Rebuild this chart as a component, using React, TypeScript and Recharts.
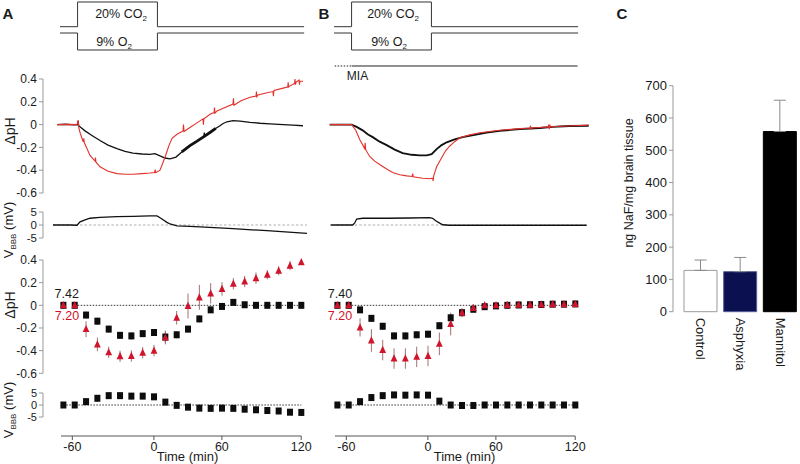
import React from 'react';
import { ComposedChart, Line, XAxis, YAxis, ErrorBar, BarChart, Bar, Cell } from 'recharts';

const FONT = '"Liberation Sans", Arial, Helvetica, sans-serif';
const RED_TRACE = '#e2322c';
const RED_MARK = '#d0142c';
const AXIS_GRAY = '#9a9a9a';

// x is the sample index (22 samples); tick labels are the protocol times
const sampleIdx = [0, 1, 2, 3, 4, 5, 6, 7, 8, 9, 10, 11, 12, 13, 14, 15, 16, 17, 18, 19, 20, 21];
const timeTicks = [0.8, 8, 14, 21];
const timeTickLabels = ['-60', '0', '60', '120'];

// gas protocol / MIA bar, in the same x units
const gasStart = -0.3;
const gasOn = 1.25;
const gasOff = 8.3;
const gasEnd = 21.25;
const miaStart = -0.24;
const miaOn = 1.27;
const miaEnd = 21.2;

// ---- continuous recordings [x, value] ----
const phTraceA_black = [
  [-0.56, 0], [0.2, 0.003], [0.9, -0.002], [1.25, 0], [1.3, 0.03], [1.35, -0.01], [1.6, -0.03], [1.91, -0.055],
  [2.52, -0.095], [3.23, -0.14], [3.94, -0.18], [4.73, -0.21], [5.44, -0.235], [6.14, -0.25], [6.94, -0.258],
  [7.64, -0.262], [8.08, -0.255], [8.53, -0.275], [8.97, -0.293], [9.41, -0.3], [9.94, -0.285], [10.4, -0.245],
  [11.17, -0.185], [11.8, -0.145], [12.4, -0.105], [12.44, -0.07], [12.48, -0.105], [13.0, -0.065], [13.5, -0.03],
  [13.82, -0.01], [14.1, 0.01], [14.44, 0.025], [14.97, 0.035], [15.59, 0.03], [16.47, 0.02], [17.35, 0.012],
  [18.24, 0.006], [19.4, 0], [20.26, -0.005], [21.15, -0.01],
];
// noisy stretch of the control recording (drawn as a wider band)
const phTraceA_blackNoisy = [
  [10.45, -0.24], [11.17, -0.185], [11.8, -0.145], [12.4, -0.105], [13.0, -0.065], [13.45, -0.033],
];
const phTraceA_red = [
  [-0.56, 0], [0.5, 0.002], [1.2, 0], [1.3, 0.04], [1.36, -0.03], [1.5, -0.08], [1.75, -0.15], [1.8, -0.12],
  [1.85, -0.16], [2.08, -0.21], [2.35, -0.27], [2.79, -0.32], [2.83, -0.29], [2.88, -0.33], [3.23, -0.37],
  [3.94, -0.41], [4.73, -0.43], [5.44, -0.435], [6.14, -0.435], [6.94, -0.43], [7.64, -0.425], [8.05, -0.42],
  [8.1, -0.395], [8.15, -0.422], [8.53, -0.4], [8.8, -0.33], [9.06, -0.26], [9.33, -0.18], [9.59, -0.12],
  [10.03, -0.085], [10.56, -0.055], [10.6, 0.0], [10.65, -0.06], [11.17, -0.025], [11.79, 0.015], [12.32, 0.05],
  [12.36, 0.0], [12.4, 0.05], [12.94, 0.09], [13.3, 0.105], [13.34, 0.15], [13.38, 0.1], [13.56, 0.12],
  [14.26, 0.15], [14.97, 0.18], [15.01, 0.23], [15.05, 0.17], [15.68, 0.21], [16.47, 0.24], [17.0, 0.25],
  [17.04, 0.29], [17.08, 0.245], [17.18, 0.26], [17.97, 0.28], [18.5, 0.29], [18.54, 0.25], [18.58, 0.3],
  [19.4, 0.32], [19.8, 0.33], [19.84, 0.37], [19.88, 0.33], [20.0, 0.34], [20.4, 0.36], [20.44, 0.4],
  [20.48, 0.35], [20.53, 0.37], [20.8, 0.39], [20.84, 0.35], [20.88, 0.38], [21.15, 0.38],
];
const vTraceA = [
  [-0.92, 0], [0, 0.05], [0.58, 0], [1.2, -0.1], [1.47, 1.2], [1.91, 2.0], [2.35, 2.6], [3.23, 2.9], [4.73, 3.2],
  [6.14, 3.35], [7.64, 3.5], [8.26, 3.5], [8.53, 2.8], [8.8, 2.0], [9.14, 1.0], [9.41, 0.4], [10.03, -0.3],
  [11.17, -0.55], [12.06, -0.7], [14.97, -1.4], [17.97, -2.2], [21.5, -3.2],
];
const phTraceB_black = [
  [-0.68, 0], [0.64, 0], [1.26, 0], [1.7, -0.02], [2.23, -0.05], [2.67, -0.085], [3.12, -0.11], [3.73, -0.15],
  [4.35, -0.18], [5.06, -0.22], [5.76, -0.25], [6.56, -0.265], [7.26, -0.27], [7.88, -0.27], [8.32, -0.26],
  [8.76, -0.215], [9.2, -0.18], [9.65, -0.155], [10.35, -0.13], [11.06, -0.11], [12.12, -0.09], [13.18, -0.07],
  [14.33, -0.055], [16.1, -0.04], [17.86, -0.03], [19.0, -0.02], [20.5, -0.012], [22.18, -0.01],
];
const phTraceB_red = [
  [-0.68, 0], [1.26, 0], [1.62, -0.05], [1.97, -0.13], [2.41, -0.21], [2.45, -0.16], [2.5, -0.22], [2.85, -0.28],
  [3.29, -0.32], [3.73, -0.35], [4.35, -0.39], [4.88, -0.42], [5.5, -0.44], [6.12, -0.45], [6.6, -0.455],
  [6.65, -0.43], [6.7, -0.458], [7.53, -0.47], [8.15, -0.475], [8.41, -0.47], [8.45, -0.495], [8.5, -0.45],
  [8.76, -0.37], [9.2, -0.29], [9.55, -0.23], [9.9, -0.19], [10.35, -0.15], [10.79, -0.115], [11.68, -0.09],
  [12.56, -0.072], [14.33, -0.05], [16.1, -0.035], [17.0, -0.03], [17.05, -0.01], [17.1, -0.045], [17.15, -0.03],
  [17.86, -0.025], [18.6, -0.02], [18.65, 0], [18.7, -0.04], [18.75, 0], [18.8, -0.02], [19.63, -0.015],
  [20.95, -0.01], [22.18, -0.005],
];
const vTraceB = [
  [-0.6, 0], [1.35, 0], [1.53, 0.8], [1.7, 2.3], [2.23, 2.6], [4.35, 2.6], [6.38, 2.7], [8.15, 2.8], [8.41, 2.6],
  [8.68, 1.6], [9.03, 0.7], [9.3, 0.1], [9.9, -0.1], [22.0, -0.1],
];
const vTraceZeroA = [-0.92, 21.5];
const vTraceZeroB = [-0.06, 22.0];

// ---- averaged samples ----
const phA_black = [0, 0, -0.086, -0.14, -0.21, -0.265, -0.27, -0.25, -0.24, -0.28, -0.26, -0.21, -0.12, -0.04, -0.01, 0.026, 0.005, 0, 0, 0, 0, 0];
const phA_blackErr = [0, 0, 0.03, 0.03, 0.03, 0.03, 0.03, 0.03, 0.03, 0.05, 0.03, 0.03, 0.03, 0.02, 0.02, 0.02, 0.01, 0.01, 0.01, 0.01, 0.01, 0.01];
const phA_red = [0, 0, -0.21, -0.345, -0.415, -0.45, -0.447, -0.418, -0.4, -0.285, -0.11, -0.006, 0.07, 0.105, 0.145, 0.19, 0.21, 0.24, 0.27, 0.305, 0.35, 0.38];
const phA_redErr = [0, 0, 0.07, 0.06, 0.05, 0.05, 0.05, 0.05, 0.05, 0.06, 0.06, 0.11, 0.11, 0.09, 0.06, 0.05, 0.05, 0.05, 0.04, 0.04, 0.04, 0.02];
const vA_black = [0, 0, 1.4, 2.8, 3.9, 3.9, 3.7, 3.7, 3.4, 1.2, -0.15, -0.9, -1.3, -1.4, -1.3, -1.4, -1.75, -2.0, -2.3, -2.5, -3.0, -3.1];
const vA_err = [0.5, 0.5, 1.3, 1.3, 1.0, 1.0, 1.0, 1.0, 1.0, 1.0, 0.9, 1.0, 1.0, 1.0, 1.0, 1.0, 1.0, 1.0, 1.0, 1.0, 1.0, 1.1];

const phB_black = [0, 0, -0.04, -0.115, -0.185, -0.27, -0.27, -0.26, -0.255, -0.18, -0.11, -0.065, -0.035, -0.012, -0.005, 0, 0.003, 0.005, 0.007, 0.01, 0.01, 0.012];
const phB_blackErr = [0, 0, 0.02, 0.03, 0.03, 0.03, 0.03, 0.03, 0.03, 0.03, 0.03, 0.02, 0.02, 0.01, 0.01, 0.01, 0.01, 0.01, 0.01, 0.01, 0.01, 0.01];
const phB_red = [0, 0, -0.195, -0.31, -0.395, -0.47, -0.47, -0.455, -0.447, -0.34, -0.165, -0.065, -0.024, 0, 0, 0.003, 0.005, 0.005, 0.007, 0.01, 0.01, 0.012];
const phB_redErr = [0, 0, 0.08, 0.1, 0.09, 0.09, 0.09, 0.09, 0.09, 0.1, 0.1, 0.04, 0.03, 0.02, 0.02, 0.02, 0.02, 0.02, 0.02, 0.02, 0.02, 0.02];
const vB_black = [0, 0, 1.4, 3.1, 3.9, 4.2, 4.1, 4.2, 4.1, 1.6, 0, -0.2, -0.2, 0, 0, 0, 0, 0, 0, 0, 0, 0];
const vB_err = [0.3, 0.3, 0.8, 1.0, 0.9, 0.7, 0.7, 0.7, 0.8, 0.9, 0.5, 0.6, 0.5, 0.3, 0.3, 0.3, 0.3, 0.3, 0.3, 0.3, 0.3, 0.3];

const phTicks = [-0.6, -0.4, -0.2, 0, 0.2, 0.4];
const vTicks = [-5, 0, 5];

// ---- panel C ----
const groups = ['Control', 'Asphyxia', 'Mannitol'];
const nafMean = [128, 124, 558];
const nafSem = [32, 44, 97];
const nafTicks = [0, 100, 200, 300, 400, 500, 600, 700];
const barFill = ['#ffffff', '#0b1050', '#000000'];
const barStroke = ['#9a9a9a', '#56609a', '#000000'];

// layout of the time columns
const PX = 11.33;
const X_MIN = -1.8;
const X_MAX = 22.4;
const PLOT_W = (X_MAX - X_MIN) * PX;
const AXIS_W = 43;
const COL_A = 43;
const COL_B = 317.3;

const pairs = (arr: number[][]) => arr.map(([x, y]) => ({ x, y }));
const samples = (vals: number[], errs: number[]) => sampleIdx.map((x, i) => ({ x, y: vals[i], e: errs[i] }));
const zeroLine = (s: number[]) => [[s[0], 0], [s[1], 0]];

const co2Steps = [[gasStart, 0], [gasOn, 0], [gasOn, 1], [gasOff, 1], [gasOff, 0], [gasEnd, 0]];
const o2Steps = [[gasStart, 0], [gasOn, 0], [gasOn, -1], [gasOff, -1], [gasOff, 0], [gasEnd, 0]];

const square = (p: any) => (
  <rect key={`s${p.index}`} x={p.cx - 3} y={p.cy - 3.5} width={6} height={7} fill="#0d0d0d" />
);
const triangle = (p: any) => (
  <polygon
    key={`t${p.index}`}
    points={`${p.cx},${p.cy - 4.2} ${p.cx - 3.4},${p.cy + 3} ${p.cx + 3.4},${p.cy + 3}`}
    fill={RED_MARK}
  />
);

interface StripProps {
  left: number;
  plotTop: number;
  plotH: number;
  domain: [number, number];
  ticks?: number[];
  axis?: boolean;
  tickFont?: number;
  children: React.ReactNode;
}

const Strip: React.FC<StripProps> = ({ left, plotTop, plotH, domain, ticks, axis = false, tickFont = 12, children }) => {
  const m = 8;
  return (
    <div style={{ position: 'absolute', left: axis ? left - AXIS_W : left, top: plotTop - m }}>
      <ComposedChart
        width={(axis ? AXIS_W : 0) + PLOT_W}
        height={plotH + 2 * m}
        margin={{ top: m, right: 0, bottom: m, left: 0 }}
      >
        <XAxis type="number" dataKey="x" domain={[X_MIN, X_MAX]} hide />
        <YAxis
          type="number"
          domain={domain}
          ticks={ticks}
          hide={!axis}
          width={AXIS_W}
          interval={0}
          axisLine={{ stroke: AXIS_GRAY }}
          tickLine={{ stroke: AXIS_GRAY }}
          tickSize={4}
          tickMargin={2}
          tick={{ fontSize: tickFont, fill: '#1a1a1a' }}
        />
        {children}
      </ComposedChart>
    </div>
  );
};

const trace = (data: number[][], color: string, w = 1.1, dash?: string) => (
  <Line
    data={pairs(data)}
    dataKey="y"
    type="linear"
    stroke={color}
    strokeWidth={w}
    strokeDasharray={dash}
    dot={false}
    activeDot={false}
    isAnimationActive={false}
  />
);

const markers = (vals: number[], errs: number[], red: boolean) => (
  <Line
    data={samples(vals, errs)}
    dataKey="y"
    stroke="none"
    dot={red ? triangle : square}
    activeDot={false}
    isAnimationActive={false}
  >
    <ErrorBar dataKey="e" width={0} stroke={red ? '#a07070' : '#555'} strokeWidth={1} direction="y" />
  </Line>
);

const TimeAxis: React.FC<{ left: number }> = ({ left }) => {
  const tMin = -0.2;
  const tMax = 21;
  const pad = 20;
  return (
    <div style={{ position: 'absolute', left: left + (tMin - X_MIN) * PX - pad, top: 435 }}>
      <ComposedChart
        width={(tMax - tMin) * PX + 2 * pad}
        height={30}
        margin={{ top: 0, right: pad, bottom: 0, left: pad }}
      >
        <XAxis
          type="number"
          dataKey="x"
          domain={[tMin, tMax]}
          allowDataOverflow
          ticks={timeTicks}
          interval={0}
          tickFormatter={(v: number) => timeTickLabels[timeTicks.indexOf(v)]}
          height={29}
          tickSize={4}
          tickMargin={2}
          axisLine={{ stroke: '#555' }}
          tickLine={{ stroke: '#555' }}
          tick={{ fontSize: 12.5, fill: '#1a1a1a' }}
        />
        <YAxis hide domain={[0, 1]} />
      </ComposedChart>
    </div>
  );
};

const Protocol: React.FC<{ left: number; mia?: boolean }> = ({ left, mia = false }) => (
  <>
    <Strip left={left} plotTop={2.3} plotH={24.7} domain={[0, 1]}>
      {trace(co2Steps, '#333', 1)}
    </Strip>
    <Strip left={left} plotTop={33} plotH={17} domain={[-1, 0]}>
      {trace(o2Steps, '#333', 1)}
    </Strip>
    {mia && (
      <Strip left={left} plotTop={60} plotH={6} domain={[0, 1]}>
        {trace([[miaStart, 0], [miaOn, 0]], '#222', 1, '1.5 1.5')}
        {trace([[miaOn, 0], [miaEnd, 0]], '#222', 1)}
      </Strip>
    )}
  </>
);

interface TxtProps {
  x: number;
  y: number;
  size?: number;
  color?: string;
  rotate?: number;
  bold?: boolean;
  children: React.ReactNode;
}

const Txt: React.FC<TxtProps> = ({ x, y, size = 12, color = '#1a1a1a', rotate = 0, bold = false, children }) => (
  <div
    style={{
      position: 'absolute',
      left: x,
      top: y,
      transform: `translate(-50%, -50%) rotate(${rotate}deg)`,
      fontSize: size,
      lineHeight: 1,
      whiteSpace: 'nowrap',
      color,
      fontWeight: bold ? 700 : 400,
    }}
  >
    {children}
  </div>
);

const Sub: React.FC<{ children: React.ReactNode; size?: number }> = ({ children, size = 8 }) => (
  <span style={{ fontSize: size, position: 'relative', top: 3 }}>{children}</span>
);

const VbbbLabel = () => (
  <>
    V<Sub>BBB</Sub> (mV)
  </>
);

const CategoryTick = (props: any) => {
  const { x, y, payload } = props;
  return (
    <text
      x={x}
      y={y}
      transform={`rotate(90 ${x} ${y})`}
      textAnchor="start"
      dominantBaseline="central"
      fontSize={13}
      fill="#1a1a1a"
    >
      {payload.value}
    </text>
  );
};

export default function App() {
  const barData = groups.map((name, i) => ({ name, mean: nafMean[i], err: [0, nafSem[i]] }));

  return (
    <div
      style={{
        position: 'absolute',
        left: 0,
        top: 0,
        width: 800,
        height: 464,
        background: '#fff',
        fontFamily: FONT,
        overflow: 'hidden',
      }}
    >
      {/* ---------- panel A ---------- */}
      <Protocol left={COL_A} />
      <Strip left={COL_A} plotTop={79} plotH={114} domain={[-0.6, 0.4]} ticks={phTicks} axis>
        {trace(phTraceA_black, '#111', 1.3)}
        {trace(phTraceA_blackNoisy, '#111', 2.8)}
        {trace(phTraceA_red, RED_TRACE, 1.1)}
      </Strip>
      <Strip left={COL_A} plotTop={212.3} plotH={26} domain={[-5, 5]} ticks={vTicks} axis tickFont={11.5}>
        {trace(zeroLine(vTraceZeroA), '#999', 0.8, '2.5 2')}
        {trace(vTraceA, '#111', 1.3)}
      </Strip>
      <Strip left={COL_A} plotTop={260} plotH={113.3} domain={[-0.6, 0.4]} ticks={phTicks} axis>
        {trace(zeroLine([sampleIdx[1], sampleIdx[21]]), '#333', 1, '1.5 1.5')}
        {markers(phA_black, phA_blackErr, false)}
        {markers(phA_red, phA_redErr, true)}
      </Strip>
      <Strip left={COL_A} plotTop={393.3} plotH={24} domain={[-5, 5]} ticks={vTicks} axis tickFont={11}>
        {trace(zeroLine([sampleIdx[0], sampleIdx[21]]), '#333', 1, '1.5 1.5')}
        {markers(vA_black, vA_err, false)}
      </Strip>
      <TimeAxis left={COL_A} />

      {/* ---------- panel B ---------- */}
      <Protocol left={COL_B} mia />
      <Strip left={COL_B} plotTop={79} plotH={114} domain={[-0.6, 0.4]}>
        {trace(phTraceB_black, '#111', 1.9)}
        {trace(phTraceB_red, RED_TRACE, 1.1)}
      </Strip>
      <Strip left={COL_B} plotTop={212.3} plotH={26} domain={[-5, 5]}>
        {trace(zeroLine(vTraceZeroB), '#999', 0.8, '2.5 2')}
        {trace(vTraceB, '#111', 1.3)}
      </Strip>
      <Strip left={COL_B} plotTop={260} plotH={113.3} domain={[-0.6, 0.4]}>
        {trace(zeroLine([sampleIdx[1], sampleIdx[21]]), '#333', 1, '1.5 1.5')}
        {markers(phB_black, phB_blackErr, false)}
        {markers(phB_red, phB_redErr, true)}
      </Strip>
      <Strip left={COL_B} plotTop={393.3} plotH={24} domain={[-5, 5]}>
        {trace(zeroLine([sampleIdx[0], sampleIdx[21]]), '#333', 1, '1.5 1.5')}
        {markers(vB_black, vB_err, false)}
      </Strip>
      <TimeAxis left={COL_B} />

      {/* ---------- panel C ---------- */}
      <div style={{ position: 'absolute', left: 623, top: 70 }}>
        <BarChart width={177} height={301.7} data={barData} margin={{ top: 15.7, right: 0, bottom: 0, left: 0 }}>
          <XAxis
            dataKey="name"
            axisLine={false}
            tickLine={false}
            tickSize={4}
            tickMargin={2}
            height={60}
            padding={{ left: 8, right: 0 }}
            interval={0}
            tick={CategoryTick}
          />
          <YAxis
            width={50}
            domain={[0, 700]}
            ticks={nafTicks}
            interval={0}
            axisLine={{ stroke: AXIS_GRAY }}
            tickLine={{ stroke: AXIS_GRAY }}
            tickSize={4}
            tickMargin={2}
            tick={{ fontSize: 13, fill: '#1a1a1a' }}
          />
          <Bar dataKey="mean" barSize={33} isAnimationActive={false}>
            {groups.map((g, i) => (
              <Cell key={g} fill={barFill[i]} stroke={barStroke[i]} strokeWidth={1} />
            ))}
            <ErrorBar dataKey="err" width={6} stroke="#8a8a8a" strokeWidth={1} direction="y" />
          </Bar>
        </BarChart>
      </div>

      {/* ---------- text ---------- */}
      <Txt x={8} y={12.5} size={15} bold>A</Txt>
      <Txt x={324} y={12.5} size={15} bold>B</Txt>
      <Txt x={622} y={13} size={15} bold>C</Txt>

      <Txt x={121} y={14} size={12.5}>20% CO<Sub>2</Sub></Txt>
      <Txt x={114} y={42} size={12.5}>9% O<Sub>2</Sub></Txt>
      <Txt x={393} y={14} size={12.5}>20% CO<Sub>2</Sub></Txt>
      <Txt x={389} y={42} size={12.5}>9% O<Sub>2</Sub></Txt>
      <Txt x={357.5} y={76} size={12}>MIA</Txt>

      <Txt x={10} y={131} size={14} rotate={-90}>ΔpH</Txt>
      <Txt x={10} y={305} size={14} rotate={-90}>ΔpH</Txt>
      <Txt x={7.5} y={230} size={13} rotate={-90}><VbbbLabel /></Txt>
      <Txt x={7.5} y={409.5} size={13} rotate={-90}><VbbbLabel /></Txt>

      <Txt x={66.7} y={294} size={12.5}>7.42</Txt>
      <Txt x={67} y={316} size={12.5} color={RED_MARK}>7.20</Txt>
      <Txt x={340} y={294} size={12.5}>7.40</Txt>
      <Txt x={340} y={316} size={12.5} color={RED_MARK}>7.20</Txt>

      <Txt x={187.5} y={456} size={13}>Time (min)</Txt>
      <Txt x={464.5} y={456} size={13}>Time (min)</Txt>

      <Txt x={629} y={183} size={12.5} rotate={-90}>ng NaF/mg brain tissue</Txt>
    </div>
  );
}
